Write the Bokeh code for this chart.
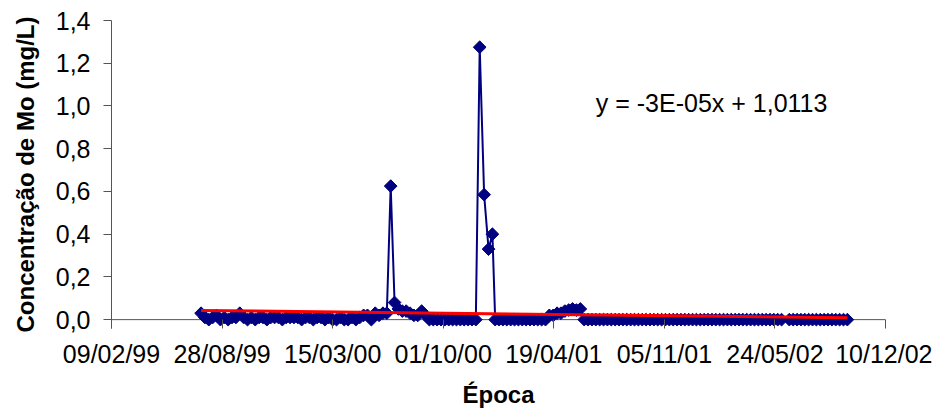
import numpy as np
import pandas as pd
from bokeh.plotting import figure
from bokeh.models import (Range1d, FixedTicker, DatetimeTickFormatter,
                          CustomJSTickFormatter, Span, Label)
from bokeh.embed import file_html
from bokeh.resources import INLINE

# ---------------- data ----------------
dates_1999 = ["1999-07-21", "1999-07-28", "1999-08-04", "1999-08-11", "1999-08-18", "1999-08-25",
              "1999-09-01", "1999-09-08", "1999-09-15", "1999-09-22", "1999-09-29", "1999-10-06",
              "1999-10-13", "1999-10-20", "1999-10-27", "1999-11-03", "1999-11-10", "1999-11-17",
              "1999-11-24", "1999-12-01", "1999-12-08", "1999-12-15", "1999-12-22", "1999-12-29"]
mo_1999 = [0.03, 0.01, 0.00, 0.01, 0.02, 0.00,
           0.01, 0.00, 0.01, 0.01, 0.03, 0.01,
           0.00, 0.01, 0.00, 0.01, 0.01, 0.00,
           0.01, 0.01, 0.01, 0.00, 0.01, 0.01]

dates_2000 = ["2000-01-05", "2000-01-12", "2000-01-19", "2000-01-26",
              "2000-02-02", "2000-02-09", "2000-02-16", "2000-02-23",
              "2000-03-01", "2000-03-08", "2000-03-15", "2000-03-22", "2000-03-29",
              "2000-04-05", "2000-04-12", "2000-04-19", "2000-04-26",
              "2000-05-03", "2000-05-10", "2000-05-17", "2000-05-24", "2000-05-31",
              "2000-06-07", "2000-06-14", "2000-06-21", "2000-06-28",
              "2000-07-05", "2000-07-12", "2000-07-19", "2000-07-26",
              "2000-08-02", "2000-08-09", "2000-08-16", "2000-08-23", "2000-08-30",
              "2000-09-06", "2000-09-13", "2000-09-20", "2000-09-27",
              "2000-10-04", "2000-10-11", "2000-10-18", "2000-10-25",
              "2000-11-01", "2000-11-08", "2000-11-15", "2000-11-22", "2000-11-29",
              "2000-12-06", "2000-12-14", "2000-12-22", "2000-12-29"]
mo_2000 = [0.01, 0.01, 0.00, 0.01,
           0.01, 0.00, 0.01, 0.01,
           0.00, 0.01, 0.00, 0.00, 0.01,
           0.00, 0.00, 0.01, 0.00,
           0.01, 0.02, 0.02, 0.00, 0.03,
           0.02, 0.03, 0.03, 0.625,
           0.08, 0.05, 0.04, 0.04,
           0.03, 0.02, 0.02, 0.04, 0.02,
           0.00, 0.00, 0.00, 0.00,
           0.00, 0.00, 0.00, 0.00,
           0.00, 0.00, 0.00, 0.00, 0.00,
           1.275, 0.585, 0.33, 0.40]

dates_2001 = ["2001-01-03", "2001-01-10", "2001-01-17", "2001-01-24", "2001-01-31",
              "2001-02-07", "2001-02-14", "2001-02-21", "2001-02-28",
              "2001-03-07", "2001-03-14", "2001-03-21", "2001-03-28",
              "2001-04-04", "2001-04-11", "2001-04-18", "2001-04-25",
              "2001-05-02", "2001-05-09", "2001-05-16", "2001-05-23", "2001-05-30",
              "2001-06-06", "2001-06-13", "2001-06-20", "2001-06-27",
              "2001-07-04", "2001-07-11", "2001-07-18", "2001-07-25",
              "2001-08-01", "2001-08-08", "2001-08-15", "2001-08-22", "2001-08-29",
              "2001-09-05", "2001-09-12", "2001-09-19", "2001-09-26",
              "2001-10-03", "2001-10-10", "2001-10-17", "2001-10-24", "2001-10-31",
              "2001-11-07", "2001-11-14", "2001-11-21", "2001-11-28",
              "2001-12-05", "2001-12-12", "2001-12-19", "2001-12-26"]
mo_2001 = [0.00, 0.00, 0.00, 0.00, 0.00,
           0.00, 0.00, 0.00, 0.00,
           0.00, 0.00, 0.00, 0.00,
           0.00, 0.02, 0.02, 0.03,
           0.03, 0.04, 0.045, 0.05, 0.045,
           0.05, 0.00, 0.00, 0.00,
           0.00, 0.00, 0.00, 0.00,
           0.00, 0.00, 0.00, 0.00, 0.00,
           0.00, 0.00, 0.00, 0.00,
           0.00, 0.00, 0.00, 0.00, 0.00,
           0.00, 0.00, 0.00, 0.00,
           0.00, 0.00, 0.00, 0.00]

dates_2002 = ["2002-01-02", "2002-01-09", "2002-01-16", "2002-01-23", "2002-01-30",
              "2002-02-06", "2002-02-13", "2002-02-20", "2002-02-27",
              "2002-03-06", "2002-03-13", "2002-03-20", "2002-03-27",
              "2002-04-03", "2002-04-10", "2002-04-17", "2002-04-24",
              "2002-05-01", "2002-05-08", "2002-05-15", "2002-05-22", "2002-05-29",
              "2002-06-05", "2002-06-19", "2002-06-26",
              "2002-07-03", "2002-07-10", "2002-07-17", "2002-07-24", "2002-07-31",
              "2002-08-07", "2002-08-14", "2002-08-21", "2002-08-28",
              "2002-09-04", "2002-09-11", "2002-09-18", "2002-09-25",
              "2002-10-02"]
mo_2002 = [0.00, 0.00, 0.00, 0.00, 0.00,
           0.00, 0.00, 0.00, 0.00,
           0.00, 0.00, 0.00, 0.00,
           0.00, 0.00, 0.00, 0.00,
           0.00, 0.00, 0.00, 0.00, 0.00,
           0.00, 0.00, 0.00,
           0.00, 0.00, 0.00, 0.00, 0.00,
           0.00, 0.00, 0.00, 0.00,
           0.00, 0.00, 0.00, 0.00,
           0.00]

x_tick_dates = ["1999-02-09", "1999-08-28", "2000-03-15", "2000-10-01",
                "2001-04-19", "2001-11-05", "2002-05-24", "2002-12-10"]
y_ticks = [0.0, 0.2, 0.4, 0.6, 0.8, 1.0, 1.2, 1.4]
equation_text = "y = -3E-05x + 1,0113"
x_title = "Época"
y_title = "Concentração de Mo (mg/L)"

# ---------------- build ----------------
dates = pd.to_datetime(dates_1999 + dates_2000 + dates_2001 + dates_2002)
mo = np.array(mo_1999 + mo_2000 + mo_2001 + mo_2002, dtype=float)

tick_ms = [float(pd.Timestamp(d).value // 10**6) for d in x_tick_dates]

FONT = "Liberation Sans"
AX = "#555555"
NAVY = "#000080"

p = figure(width=932, height=410, x_axis_type="datetime",
           x_range=Range1d(start=pd.Timestamp(x_tick_dates[0]), end=pd.Timestamp(x_tick_dates[-1])),
           y_range=Range1d(start=-0.0415, end=1.4),
           output_backend="svg", toolbar_location=None,
           min_border_left=111, min_border_right=47, min_border_top=20, min_border_bottom=78)
p.xgrid.visible = False
p.ygrid.visible = False
p.outline_line_color = None
p.background_fill_color = "white"
p.border_fill_color = "white"

# x axis
xa = p.xaxis[0]
xa.ticker = FixedTicker(ticks=tick_ms)
fmt = "%d/%m/%y"
xa.formatter = DatetimeTickFormatter(microseconds=fmt, milliseconds=fmt, seconds=fmt, minsec=fmt,
                                     minutes=fmt, hourmin=fmt, hours=fmt, days=fmt,
                                     months=fmt, years=fmt)
xa.axis_line_color = None
xa.major_tick_in = 9
xa.major_tick_out = 0
xa.major_tick_line_color = AX
xa.minor_tick_line_color = None
xa.major_label_standoff = 11
xa.major_label_text_font = FONT
xa.major_label_text_font_size = "25px"
xa.major_label_text_color = "black"
xa.axis_label = x_title
xa.axis_label_text_font = FONT
xa.axis_label_text_font_size = "24px"
xa.axis_label_text_font_style = "bold"
xa.axis_label_text_color = "black"
xa.axis_label_standoff = 10

# y axis
ya = p.yaxis[0]
ya.ticker = FixedTicker(ticks=y_ticks)
ya.formatter = CustomJSTickFormatter(code="return tick.toFixed(1).replace('.', ',');")
ya.axis_line_color = AX
ya.major_tick_out = 8
ya.major_tick_in = 0
ya.major_tick_line_color = AX
ya.minor_tick_line_color = None
ya.major_label_standoff = 13
ya.major_label_text_font = FONT
ya.major_label_text_font_size = "25px"
ya.major_label_text_color = "black"
ya.axis_label = y_title
ya.axis_label_text_font = FONT
ya.axis_label_text_font_size = "24px"
ya.axis_label_text_font_style = "bold"
ya.axis_label_text_color = "black"
ya.axis_label_standoff = 14

# x axis line at y = 0
p.add_layout(Span(location=0, dimension="width", line_color=AX, line_width=1, level="underlay"))

# series
p.line(dates, mo, line_color=NAVY, line_width=2)
p.scatter(dates, mo, marker="square", angle=np.pi / 4, size=9,
          fill_color=NAVY, line_color=NAVY)

# linear trendline (least squares on days)
days = (dates - dates[0]).days.values.astype(float)
slope, intercept = np.polyfit(days, mo, 1)
tx = [dates[0], dates[-1]]
ty = [intercept, intercept + slope * days[-1]]
p.line(tx, ty, line_color="#FF0000", line_width=3)

# equation label
p.add_layout(Label(x=float(pd.Timestamp("2001-07-04").value // 10**6), y=1.015,
                   text=equation_text, text_font=FONT, text_font_size="25px",
                   text_baseline="middle", text_align="left", text_color="black"))

open("out.html", "w").write(file_html(p, INLINE))
